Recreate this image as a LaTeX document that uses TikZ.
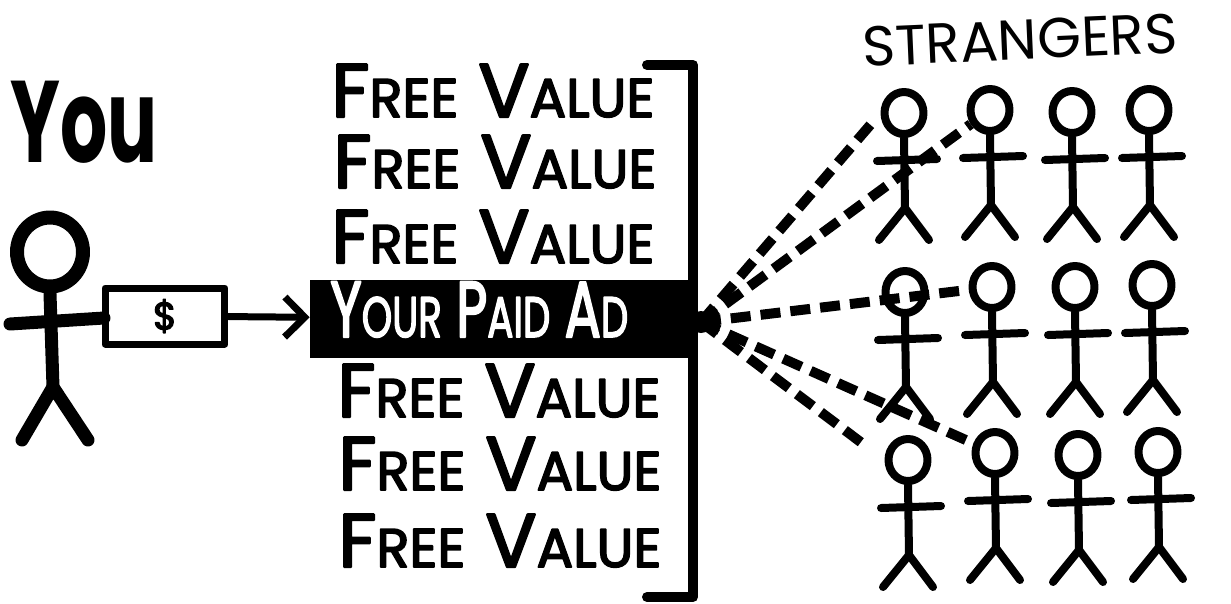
\documentclass[tikz,border=0pt]{standalone}
\usepackage{fontspec}
\setmainfont{Poppins}
\newfontfamily\marker[FakeBold=3]{Poppins}
\usepackage{graphicx}
\usetikzlibrary{shapes.geometric,arrows.meta}

% fake small caps: first letter full size, the rest shrunk
\newcommand\smallcap[1]{\scalebox{0.72}{#1}}
\newcommand\freevalue{F\smallcap{REE} V\smallcap{ALUE}}

\begin{document}
\begin{tikzpicture}[
    x=0.02cm,
    y=-0.02cm,
    line cap=round,
    line join=round,
    limb/.style={line width=0.16cm},
    head/.style={
        ellipse,
        draw,
        line width=0.16cm,
        inner sep=0pt,
        minimum width=0.78cm,
        minimum height=0.84cm
    },
    ray/.style={
        line width=0.2cm,
        line cap=butt,
        dash pattern=on 0.4cm off 0.2cm
    },
    item/.style={
        anchor=base west,
        inner sep=0pt,
        font=\fontsize{43}{43}\marker
    }
]
    \useasboundingbox (0,0) rectangle (1231,603);

    % You, holding the bill
    \node[anchor=base west, inner sep=0pt] (you) at (10,162)
        {\scalebox{0.64}[1]{\fontsize{66}{66}\selectfont\bfseries You}};

    \node[head, line width=0.28cm, minimum width=1.32cm, minimum height=1.38cm]
        (me) at (50,252) {};
    \draw[line width=0.26cm] (me.south) -- (53,387);
    \draw[line width=0.26cm] (10,324) -- (104,318);
    \draw[line width=0.26cm] (22,440) -- (53,387) -- (88,440);

    \node[draw, line width=0.14cm, inner sep=0pt,
          minimum width=2.4cm, minimum height=1.12cm,
          font=\fontsize{22}{22}\marker]
        (bill) at (165,316) {\$};

    % The feed: paid ad between free posts
    \node[fill=black, inner sep=0pt, minimum width=7.66cm, minimum height=1.56cm]
        (paid) at (501.5,319) {};
    \node[item, text=white] (paidtext) at (330,337)
        {\scalebox{0.68}[1]{\fontsize{45}{45}\marker Y\smallcap{OUR} P\smallcap{AID} A\smallcap{D}}};

    \draw[line width=0.14cm, -{Straight Barb[length=0.4cm, width=0.8cm]}]
        (bill) -- (paid);

    \node[item] (fv1) at (331,117) {\freevalue};
    \node[item] (fv2) at (333,188) {\freevalue};
    \node[item] (fv3) at (331,263) {\freevalue};
    \node[item] (fv4) at (337,417) {\freevalue};
    \node[item] (fv5) at (338,490) {\freevalue};
    \node[item] (fv6) at (338,567) {\freevalue};

    \draw[line width=0.2cm] (647,65) -- (693,65) -- (693,597) -- (647,597);

    % Strangers
    \node[rotate=2.5, font=\fontsize{32}{32}\selectfont] (strangers) at (1020,40)
        {STRANGERS};

    \foreach \n/\x/\y in {1-1/904/113, 1-2/990/110, 1-3/1072/112, 1-4/1149/110,
                         2-1/905/292, 2-2/992/287, 2-3/1075/287, 2-4/1152/285,
                         3-1/908/460, 3-2/995/453, 3-3/1078/455, 3-4/1158/452} {
        \node[head] (h-\n) at (\x,\y) {};
        \draw[limb] (h-\n.south) -- (\x+1,\y+95);
        \draw[limb] (\x-27,\y+48) -- (\x+33,\y+46);
        \draw[limb] (\x-25,\y+127) -- (\x+1,\y+95) -- (\x+25,\y+127);
    }

    % reach of the ad
    \coordinate (hub) at (701,322);
    \draw[ray, shorten >=0.3cm] (hub) -- (h-1-1.west);
    \draw[ray] (hub) -- (h-1-2);
    \draw[ray] (hub) -- (h-2-2);
    \draw[ray] (hub) -- (h-3-2);
    \draw[ray, shorten >=0.4cm] (hub) -- (h-3-1.west);
    \fill (hub) circle [radius=11];
\end{tikzpicture}
\end{document}
